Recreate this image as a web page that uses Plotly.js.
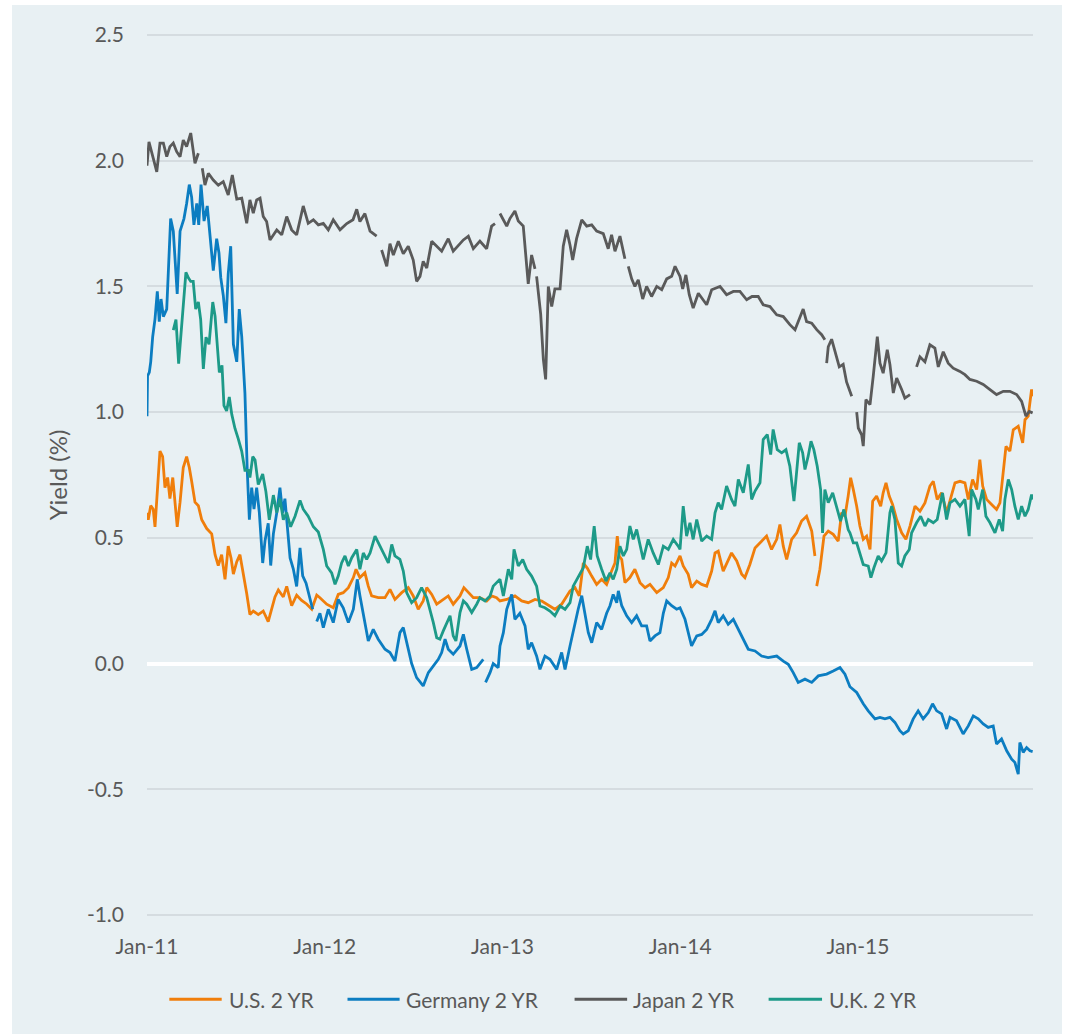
<!DOCTYPE html>
<html><head><meta charset="utf-8">
<script src="https://cdn.plot.ly/plotly-3.0.1.min.js"></script>
<style>
html,body{margin:0;padding:0;background:#ffffff;width:1065px;height:1034px;overflow:hidden}
#chart{position:absolute;left:12px;top:5px;width:1050px;height:1029px}
</style></head><body><div id="chart"></div><script>
// Time in decimal years (Jan 2011 = 2011.0); yields in %
const seriesNames = ["U.S. 2 YR", "Germany 2 YR", "Japan 2 YR", "U.K. 2 YR"];
const xTickVals = [2011, 2012, 2013, 2014, 2015];
const xTickText = ["Jan-11", "Jan-12", "Jan-13", "Jan-14", "Jan-15"];
const yTickVals = [-1, -0.5, 0, 0.5, 1, 1.5, 2, 2.5];
const yTickText = ["-1.0", "-0.5", "0.0", "0.5", "1.0", "1.5", "2.0", "2.5"];

const usT = [2011.000,2011.007,2011.021,2011.035,2011.045,2011.058,2011.073,2011.088,2011.101,2011.116,2011.129,2011.145,2011.158,2011.170,2011.186,2011.204,2011.223,2011.238,2011.251,2011.270,2011.289,2011.308,2011.336,2011.364,2011.383,2011.401,2011.420,2011.439,2011.457,2011.473,2011.486,2011.505,2011.523,2011.542,2011.561,2011.579,2011.598,2011.626,2011.654,2011.682,2011.702,2011.720,2011.739,2011.767,2011.786,2011.814,2011.842,2011.870,2011.898,2011.927,2011.955,2011.973,2012.011,2012.048,2012.076,2012.104,2012.133,2012.161,2012.176,2012.198,2012.226,2012.245,2012.264,2012.301,2012.339,2012.367,2012.395,2012.433,2012.470,2012.498,2012.526,2012.554,2012.574,2012.602,2012.630,2012.667,2012.695,2012.723,2012.761,2012.783,2012.808,2012.836,2012.873,2012.911,2012.939,2012.967,2012.986,2013.024,2013.070,2013.108,2013.145,2013.183,2013.221,2013.267,2013.295,2013.333,2013.380,2013.408,2013.432,2013.455,2013.477,2013.502,2013.530,2013.558,2013.586,2013.614,2013.633,2013.646,2013.657,2013.671,2013.689,2013.717,2013.745,2013.774,2013.802,2013.830,2013.868,2013.905,2013.933,2013.952,2013.971,2013.999,2014.017,2014.045,2014.064,2014.093,2014.121,2014.149,2014.177,2014.196,2014.214,2014.242,2014.270,2014.289,2014.318,2014.346,2014.364,2014.392,2014.421,2014.449,2014.486,2014.514,2014.543,2014.561,2014.580,2014.599,2014.627,2014.655,2014.683,2014.711,2014.740,2014.758,2014.762,2014.768,2014.786,2014.809,2014.833,2014.861,2014.889,2014.908,2014.927,2014.945,2014.959,2014.974,2014.993,2015.011,2015.030,2015.049,2015.068,2015.083,2015.105,2015.128,2015.142,2015.158,2015.176,2015.195,2015.218,2015.246,2015.270,2015.293,2015.321,2015.349,2015.377,2015.405,2015.424,2015.446,2015.471,2015.499,2015.518,2015.546,2015.574,2015.602,2015.621,2015.645,2015.668,2015.686,2015.702,2015.724,2015.752,2015.780,2015.799,2015.814,2015.833,2015.855,2015.874,2015.902,2015.927,2015.940,2015.958,2015.977,2015.985];
const usY = [0.60,0.572,0.628,0.614,0.544,0.684,0.845,0.823,0.70,0.74,0.656,0.74,0.628,0.544,0.642,0.78,0.823,0.78,0.726,0.642,0.628,0.572,0.537,0.516,0.433,0.39,0.433,0.335,0.467,0.419,0.356,0.405,0.433,0.363,0.279,0.195,0.209,0.195,0.209,0.167,0.223,0.265,0.293,0.265,0.307,0.23,0.272,0.251,0.237,0.216,0.272,0.262,0.236,0.222,0.275,0.282,0.302,0.342,0.375,0.342,0.361,0.308,0.269,0.262,0.262,0.295,0.255,0.282,0.302,0.269,0.216,0.249,0.302,0.275,0.236,0.255,0.269,0.236,0.269,0.302,0.282,0.262,0.262,0.249,0.269,0.262,0.249,0.255,0.269,0.249,0.242,0.255,0.249,0.229,0.216,0.236,0.289,0.302,0.269,0.40,0.38,0.348,0.315,0.335,0.315,0.368,0.40,0.507,0.428,0.414,0.322,0.342,0.375,0.322,0.302,0.315,0.282,0.302,0.342,0.40,0.388,0.428,0.388,0.355,0.302,0.328,0.315,0.308,0.368,0.44,0.447,0.368,0.408,0.44,0.408,0.355,0.342,0.394,0.46,0.48,0.507,0.454,0.494,0.553,0.467,0.414,0.494,0.52,0.567,0.586,0.527,0.428,null,0.308,0.375,0.507,0.527,0.514,0.487,0.60,0.586,0.666,0.739,0.692,0.626,0.547,0.494,0.507,0.454,0.646,0.666,0.626,0.679,0.719,0.666,0.633,0.573,0.52,0.494,0.547,0.626,0.606,0.639,0.706,0.725,0.653,0.679,0.60,0.653,0.719,0.725,0.719,0.653,0.732,0.692,0.811,0.706,0.653,0.633,0.613,0.639,0.745,0.864,0.845,0.93,0.944,0.878,0.97,0.984,1.09,1.063];

const deT = [2011.000,2011.003,2011.013,2011.021,2011.032,2011.045,2011.058,2011.069,2011.079,2011.092,2011.111,2011.120,2011.133,2011.148,2011.170,2011.186,2011.208,2011.223,2011.238,2011.251,2011.264,2011.280,2011.291,2011.304,2011.321,2011.339,2011.354,2011.373,2011.392,2011.405,2011.415,2011.429,2011.444,2011.457,2011.471,2011.486,2011.505,2011.519,2011.533,2011.551,2011.564,2011.576,2011.589,2011.602,2011.617,2011.632,2011.651,2011.664,2011.682,2011.696,2011.711,2011.730,2011.748,2011.763,2011.776,2011.789,2011.805,2011.823,2011.842,2011.861,2011.876,2011.895,2011.913,2011.932,2011.944,2011.955,2011.973,2011.992,2012.020,2012.048,2012.076,2012.104,2012.133,2012.161,2012.183,2012.198,2012.217,2012.245,2012.273,2012.301,2012.339,2012.367,2012.395,2012.423,2012.442,2012.461,2012.489,2012.517,2012.554,2012.583,2012.611,2012.639,2012.658,2012.677,2012.695,2012.723,2012.761,2012.780,2012.799,2012.827,2012.855,2012.892,2012.898,2012.905,2012.930,2012.948,2012.976,2012.986,2013.005,2013.024,2013.052,2013.070,2013.098,2013.127,2013.145,2013.164,2013.192,2013.211,2013.239,2013.267,2013.305,2013.333,2013.352,2013.380,2013.408,2013.426,2013.446,2013.464,2013.483,2013.502,2013.530,2013.558,2013.586,2013.605,2013.623,2013.643,2013.652,2013.671,2013.699,2013.727,2013.755,2013.783,2013.811,2013.830,2013.858,2013.886,2013.905,2013.924,2013.952,2013.980,2013.999,2014.027,2014.045,2014.064,2014.093,2014.121,2014.149,2014.177,2014.196,2014.214,2014.242,2014.270,2014.299,2014.327,2014.355,2014.383,2014.421,2014.458,2014.495,2014.543,2014.580,2014.608,2014.636,2014.664,2014.702,2014.740,2014.777,2014.824,2014.861,2014.899,2014.927,2014.955,2014.993,2015.030,2015.058,2015.096,2015.124,2015.152,2015.180,2015.208,2015.236,2015.255,2015.283,2015.311,2015.339,2015.367,2015.396,2015.420,2015.443,2015.471,2015.499,2015.518,2015.555,2015.592,2015.621,2015.649,2015.677,2015.705,2015.733,2015.761,2015.780,2015.808,2015.837,2015.865,2015.883,2015.902,2015.911,2015.930,2015.949,2015.968,2015.983];
const deY = [0.984,1.144,1.158,1.20,1.30,1.37,1.48,1.36,1.45,1.38,1.41,1.535,1.77,1.72,1.47,1.72,1.77,1.83,1.905,1.856,1.745,1.83,1.745,1.905,1.76,1.82,1.70,1.563,1.69,1.633,1.535,1.465,1.354,1.55,1.66,1.27,1.20,1.41,1.30,1.075,0.77,0.572,0.70,0.614,0.70,0.60,0.40,0.488,0.558,0.39,0.516,0.60,0.70,0.60,0.656,0.544,0.42,0.377,0.307,0.46,0.349,0.32,0.265,0.216,null,0.167,0.20,0.143,0.216,0.163,0.255,0.222,0.163,0.216,0.335,0.27,0.20,0.09,0.136,0.097,0.057,0.044,0.01,0.123,0.143,0.083,0.0,-0.056,-0.089,-0.036,-0.01,0.017,0.044,0.097,0.057,0.037,0.07,0.116,0.057,-0.023,-0.016,0.017,null,-0.075,-0.036,0.0,-0.016,0.07,0.123,0.216,0.275,0.176,0.20,0.15,0.057,0.083,0.03,-0.023,0.03,0.017,-0.023,0.044,-0.023,0.07,0.163,0.216,0.27,0.19,0.123,0.083,0.163,0.136,0.20,0.23,0.275,0.242,0.289,0.23,0.19,0.163,0.19,0.15,0.15,0.09,0.11,0.123,0.20,0.249,0.23,0.216,0.222,0.176,0.123,0.07,0.11,0.116,0.136,0.176,0.21,0.163,0.19,0.156,0.176,0.136,0.097,0.057,0.05,0.03,0.024,0.03,0.01,-0.003,-0.036,-0.075,-0.062,-0.075,-0.049,-0.042,-0.03,-0.016,-0.042,-0.092,-0.115,-0.16,-0.188,-0.22,-0.214,-0.22,-0.214,-0.234,-0.267,-0.28,-0.267,-0.22,-0.188,-0.22,-0.195,-0.16,-0.188,-0.20,-0.26,-0.214,-0.228,-0.28,-0.248,-0.208,-0.22,-0.24,-0.254,-0.248,-0.32,-0.30,-0.347,-0.38,-0.393,-0.44,-0.314,-0.353,-0.334,-0.347,-0.35];

const jpT = [2011.000,2011.011,2011.035,2011.055,2011.073,2011.092,2011.111,2011.129,2011.148,2011.167,2011.186,2011.204,2011.223,2011.246,2011.270,2011.289,2011.300,2011.311,2011.326,2011.345,2011.373,2011.401,2011.429,2011.457,2011.480,2011.505,2011.533,2011.561,2011.579,2011.598,2011.617,2011.636,2011.654,2011.673,2011.692,2011.730,2011.758,2011.786,2011.814,2011.842,2011.879,2011.907,2011.936,2011.964,2011.992,2012.020,2012.048,2012.086,2012.124,2012.159,2012.180,2012.198,2012.226,2012.255,2012.292,2012.306,2012.320,2012.349,2012.367,2012.386,2012.414,2012.442,2012.470,2012.498,2012.517,2012.536,2012.554,2012.574,2012.602,2012.630,2012.658,2012.695,2012.723,2012.780,2012.808,2012.836,2012.873,2012.911,2012.939,2012.958,2012.972,2012.986,2013.024,2013.042,2013.070,2013.089,2013.117,2013.145,2013.164,2013.183,2013.188,2013.192,2013.215,2013.230,2013.243,2013.258,2013.277,2013.295,2013.324,2013.342,2013.361,2013.380,2013.395,2013.417,2013.446,2013.474,2013.502,2013.530,2013.567,2013.595,2013.614,2013.633,2013.661,2013.689,2013.698,2013.708,2013.727,2013.745,2013.764,2013.789,2013.811,2013.839,2013.868,2013.896,2013.924,2013.952,2013.971,2013.999,2014.014,2014.032,2014.051,2014.073,2014.102,2014.149,2014.177,2014.224,2014.261,2014.299,2014.336,2014.374,2014.404,2014.439,2014.467,2014.505,2014.543,2014.580,2014.617,2014.646,2014.674,2014.692,2014.711,2014.740,2014.768,2014.796,2014.814,2014.819,2014.824,2014.833,2014.852,2014.871,2014.895,2014.917,2014.936,2014.965,2014.979,2014.993,2015.002,2015.021,2015.030,2015.045,2015.068,2015.086,2015.109,2015.124,2015.142,2015.165,2015.180,2015.199,2015.218,2015.246,2015.264,2015.293,2015.312,2015.330,2015.349,2015.377,2015.405,2015.433,2015.452,2015.480,2015.508,2015.536,2015.574,2015.602,2015.630,2015.668,2015.705,2015.743,2015.780,2015.818,2015.855,2015.893,2015.921,2015.945,2015.964,2015.983];
const jpY = [1.98,2.075,2.01,1.956,2.07,2.07,2.016,2.056,2.07,2.036,2.016,2.082,2.056,2.11,1.99,2.03,null,1.97,1.903,1.95,1.923,1.903,1.917,1.864,1.943,1.847,1.851,1.751,1.844,1.791,1.844,1.851,1.778,1.758,1.685,1.725,1.705,1.778,1.725,1.705,1.820,1.751,1.765,1.745,1.751,1.725,1.765,1.725,1.75,1.765,1.807,1.758,1.79,1.72,1.70,null,1.645,1.58,1.67,1.625,1.68,1.63,1.66,1.605,1.52,1.54,1.60,1.573,1.68,1.66,1.64,1.69,1.64,1.685,1.70,1.65,1.68,1.65,1.74,1.75,null,1.79,1.74,1.77,1.80,1.76,1.74,1.51,1.625,1.57,null,1.54,1.39,1.21,1.13,1.50,1.42,1.49,1.49,1.66,1.725,1.665,1.605,1.69,1.765,1.74,1.745,1.72,1.71,1.65,1.705,1.64,1.70,1.61,null,1.58,1.53,1.50,1.526,1.45,1.50,1.46,1.50,1.487,1.53,1.54,1.58,1.54,1.49,1.546,1.467,1.414,1.473,1.427,1.487,1.50,1.467,1.48,1.48,1.447,1.46,1.46,1.427,1.42,1.387,1.38,1.348,1.328,1.374,1.41,1.36,1.354,1.328,1.308,1.288,null,1.195,1.26,1.29,1.24,1.18,1.19,1.12,1.063,null,1.0,0.937,0.91,0.865,1.05,1.03,1.142,1.30,1.195,1.155,1.248,1.19,1.076,1.136,1.09,1.056,1.07,null,1.18,1.22,1.20,1.268,1.255,1.18,1.24,1.195,1.175,1.162,1.149,1.13,1.123,1.11,1.09,1.07,1.083,1.083,1.07,1.043,0.984,1.003,0.997];

const ukT = [2011.148,2011.163,2011.178,2011.190,2011.204,2011.219,2011.232,2011.246,2011.260,2011.274,2011.289,2011.302,2011.317,2011.332,2011.349,2011.370,2011.383,2011.396,2011.407,2011.422,2011.433,2011.448,2011.463,2011.477,2011.495,2011.514,2011.533,2011.551,2011.570,2011.579,2011.595,2011.608,2011.626,2011.651,2011.669,2011.688,2011.711,2011.730,2011.748,2011.767,2011.786,2011.808,2011.833,2011.861,2011.879,2011.907,2011.936,2011.964,2011.973,2011.992,2012.011,2012.039,2012.058,2012.076,2012.095,2012.114,2012.133,2012.152,2012.180,2012.198,2012.217,2012.236,2012.255,2012.283,2012.311,2012.339,2012.358,2012.377,2012.395,2012.423,2012.442,2012.461,2012.489,2012.517,2012.545,2012.574,2012.592,2012.611,2012.630,2012.648,2012.667,2012.686,2012.705,2012.723,2012.738,2012.761,2012.780,2012.799,2012.827,2012.855,2012.873,2012.902,2012.930,2012.948,2012.976,2012.986,2013.005,2013.033,2013.052,2013.065,2013.089,2013.114,2013.136,2013.164,2013.192,2013.211,2013.239,2013.267,2013.295,2013.324,2013.352,2013.380,2013.398,2013.426,2013.455,2013.477,2013.496,2013.516,2013.533,2013.558,2013.582,2013.605,2013.623,2013.643,2013.661,2013.680,2013.699,2013.717,2013.736,2013.755,2013.774,2013.792,2013.820,2013.848,2013.877,2013.905,2013.933,2013.961,2013.989,2013.999,2014.017,2014.036,2014.055,2014.073,2014.093,2014.121,2014.149,2014.177,2014.196,2014.214,2014.233,2014.261,2014.289,2014.308,2014.327,2014.355,2014.383,2014.402,2014.421,2014.449,2014.467,2014.490,2014.509,2014.523,2014.546,2014.571,2014.595,2014.617,2014.640,2014.655,2014.670,2014.689,2014.702,2014.720,2014.736,2014.752,2014.771,2014.790,2014.801,2014.814,2014.833,2014.858,2014.880,2014.902,2014.921,2014.945,2014.955,2014.974,2014.993,2015.011,2015.030,2015.058,2015.073,2015.090,2015.114,2015.133,2015.158,2015.180,2015.190,2015.208,2015.227,2015.246,2015.264,2015.289,2015.302,2015.330,2015.353,2015.377,2015.396,2015.424,2015.446,2015.476,2015.499,2015.518,2015.546,2015.574,2015.602,2015.626,2015.640,2015.664,2015.677,2015.702,2015.720,2015.743,2015.771,2015.795,2015.814,2015.827,2015.846,2015.865,2015.883,2015.902,2015.921,2015.940,2015.958,2015.977,2015.985];
const ukY = [1.326,1.368,1.193,1.298,1.438,1.556,1.535,1.52,1.52,1.41,1.438,1.368,1.172,1.298,1.27,1.438,1.382,1.27,1.158,1.186,1.026,1.005,1.06,0.991,0.935,0.893,0.844,0.768,0.768,0.74,0.823,0.81,0.712,0.754,0.684,0.572,0.67,0.60,0.656,0.572,0.60,0.544,0.586,0.649,0.614,0.586,0.544,0.523,0.50,0.454,0.388,0.361,0.315,0.348,0.40,0.428,0.388,0.421,0.454,0.375,0.44,0.414,0.44,0.507,0.467,0.428,0.40,0.474,0.428,0.414,0.368,0.282,0.242,0.262,0.302,0.262,0.216,0.163,0.103,0.097,0.13,0.163,0.19,0.11,0.09,0.203,0.249,0.236,0.203,0.236,0.262,0.249,0.269,0.308,0.328,0.335,0.269,0.375,0.335,0.454,0.388,0.414,0.375,0.348,0.308,0.229,0.222,0.209,0.19,0.229,0.216,0.242,0.308,0.342,0.381,0.467,0.414,0.547,0.428,0.375,0.328,0.361,0.335,0.375,0.467,0.428,0.454,0.547,0.494,0.533,0.467,0.414,0.494,0.44,0.394,0.467,0.454,0.494,0.467,0.454,0.626,0.507,0.56,0.494,0.573,0.487,0.507,0.494,0.60,0.64,0.613,0.706,0.653,0.626,0.732,0.679,0.792,0.653,0.686,0.719,0.891,0.911,0.831,0.931,0.851,0.838,0.851,0.785,0.646,0.759,0.878,0.838,0.772,0.825,0.884,0.851,0.785,0.692,0.52,0.692,0.64,0.679,0.626,0.567,0.613,0.533,0.52,0.48,0.48,0.44,0.394,0.388,0.342,0.381,0.428,0.408,0.44,0.60,0.626,0.573,0.40,0.388,0.428,0.454,0.52,0.56,0.586,0.547,0.573,0.56,0.573,0.679,0.573,0.639,0.653,0.626,0.653,0.507,0.692,0.653,0.613,0.692,0.586,0.56,0.52,0.573,0.527,0.653,0.732,0.692,0.626,0.573,0.626,0.586,0.613,0.672,0.653];

const colors = ["#F07E0B", "#0C7DC1", "#5A5A5A", "#1D9A88"];
const xs = [usT, deT, jpT, ukT];
const ys = [usY, deY, jpY, ukY];

const traces = seriesNames.map((n, i) => ({
  type: "scatter", mode: "lines", name: n, x: xs[i], y: ys[i],
  line: {color: colors[i], width: 2.8}, connectgaps: false, hoverinfo: "skip", showlegend: false
}));

const txt = {family: "Lato, 'Open Sans', sans-serif", size: 21, color: "#595959"};

// Legend drawn below the plot (positions in plot-area fractions)
const legendY = -0.0944;
const legendLineStart = [0.0252, 0.2263, 0.4826, 0.7016];
const legendLineEnd = [0.0843, 0.2851, 0.5419, 0.7619];
const legendTextStart = [0.0905, 0.2900, 0.5467, 0.7670];
const shapes = seriesNames.map((n, i) => ({
  type: "line", xref: "paper", yref: "paper", x0: legendLineStart[i], x1: legendLineEnd[i],
  y0: legendY, y1: legendY, line: {color: colors[i], width: 3}
}));
const annotations = seriesNames.map((n, i) => ({
  xref: "paper", yref: "paper", x: legendTextStart[i], y: legendY, xanchor: "left", yanchor: "middle",
  text: n, showarrow: false, font: txt
}));

const layout = {
  width: 1050, height: 1029,
  margin: {l: 135, r: 29, t: 29, b: 118, pad: 0},
  paper_bgcolor: "#E8F0F3", plot_bgcolor: "#E8F0F3",
  font: txt, showlegend: false,
  xaxis: {type: "linear", range: [2011, 2015.985], tickmode: "array", tickvals: xTickVals, ticktext: xTickText,
    showgrid: false, zeroline: false, showline: false, ticks: "", ticklabelstandoff: 16, tickfont: txt, fixedrange: true},
  yaxis: {range: [-1.004, 2.504], tickmode: "array", tickvals: yTickVals, ticktext: yTickText,
    showgrid: true, gridcolor: "#D5DCE0", gridwidth: 2, zeroline: true, zerolinecolor: "#FFFFFF", zerolinewidth: 4,
    showline: false, ticks: "", ticklabelstandoff: 22, tickfont: txt, fixedrange: true,
    title: {text: "Yield (%)", font: {family: txt.family, size: 24, color: "#595959"}, standoff: 12}},
  shapes: shapes,
  annotations: annotations
};
Plotly.newPlot("chart", traces, layout, {displayModeBar: false, staticPlot: true});
</script></body></html>
